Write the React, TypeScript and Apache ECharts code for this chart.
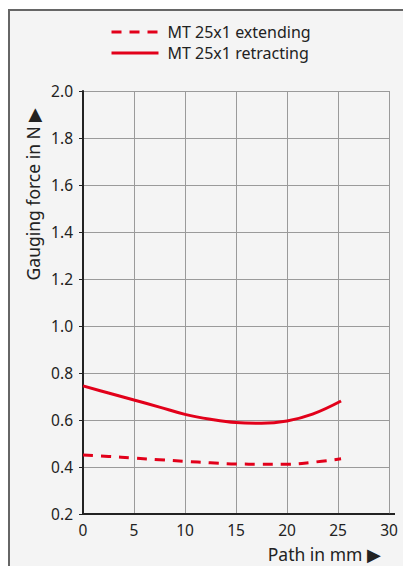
import React, { useEffect, useRef } from "react";
import * as echarts from "echarts";

const pathMm = [0, 2.5, 5, 7.5, 10, 12.5, 15, 17.5, 20, 22.5, 25.3];
const extending = [0.451, 0.445, 0.438, 0.431, 0.424, 0.418, 0.413, 0.412, 0.412, 0.42, 0.435];
const retracting = [0.745, 0.715, 0.685, 0.655, 0.624, 0.603, 0.589, 0.586, 0.596, 0.625, 0.681];
const xTicks = [0, 5, 10, 15, 20, 25, 30];
const yTicks = [0.2, 0.4, 0.6, 0.8, 1.0, 1.2, 1.4, 1.6, 1.8, 2.0];
const seriesNames = ["MT 25x1 extending", "MT 25x1 retracting"];

const RED = "#e2001a";
const FONT = "'Noto Sans', sans-serif";

export default function App() {
  const ref = useRef<HTMLDivElement>(null);
  useEffect(() => {
    document.body.style.margin = "0";
    const chart = echarts.init(ref.current!, null, { renderer: "svg" });
    chart.setOption({
      animation: false,
      backgroundColor: "#ffffff",
      textStyle: { fontFamily: FONT },
      graphic: [
        {
          type: "rect",
          z: -10,
          shape: { x: 9, y: 10, width: 420, height: 600 },
          style: { fill: "#f4f4f4", stroke: "#666666", lineWidth: 2 },
          silent: true,
        },
        {
          type: "text",
          x: 33,
          y: 194,
          rotation: Math.PI / 2,
          style: {
            text: "Gauging force in N \u25B6",
            fontFamily: FONT,
            fontSize: 17.5,
            fill: "#222",
            align: "center",
            verticalAlign: "middle",
          },
        },
        {
          type: "text",
          x: 381,
          y: 554,
          style: {
            text: "Path in mm \u25B6",
            fontFamily: FONT,
            fontSize: 17.5,
            fill: "#222",
            align: "right",
            verticalAlign: "middle",
          },
        },
        {
          type: "line",
          shape: { x1: 389, y1: 514, x2: 395, y2: 514 },
          style: { stroke: "#222", lineWidth: 2 },
        },
      ],
      legend: {
        orient: "vertical",
        left: 105,
        top: 17,
        itemWidth: 47,
        itemHeight: 14,
        itemGap: 1,
        itemStyle: { opacity: 0, borderWidth: 0 },
        lineStyle: { width: 3 },
        textStyle: {
          fontFamily: FONT,
          fontSize: 16,
          lineHeight: 20,
          color: "#222",
          padding: [0, 0, 0, 4],
        },
        data: seriesNames,
      },
      grid: { left: 83, right: 14, top: 91, bottom: 52 },
      xAxis: {
        type: "value",
        min: xTicks[0],
        max: xTicks[xTicks.length - 1],
        interval: 5,
        axisLine: { show: true, lineStyle: { color: "#222", width: 2 } },
        axisTick: { show: false },
        axisLabel: { color: "#222", fontSize: 15.5, fontFamily: FONT, margin: 8 },
        splitLine: { show: true, lineStyle: { color: "#9a9a9a", width: 1 } },
      },
      yAxis: {
        type: "value",
        min: yTicks[0],
        max: yTicks[yTicks.length - 1],
        interval: 0.2,
        axisLine: { show: true, lineStyle: { color: "#222", width: 2 } },
        axisTick: { show: true, length: 4, lineStyle: { color: "#222", width: 1 } },
        axisLabel: {
          color: "#222",
          fontSize: 15.5,
          fontFamily: FONT,
          margin: 10,
          formatter: (v: number) => v.toFixed(1),
        },
        splitLine: { show: true, lineStyle: { color: "#9a9a9a", width: 1 } },
      },
      series: [
        {
          name: seriesNames[0],
          type: "line",
          smooth: 0.4,
          symbol: "none",
          data: pathMm.map((x, i) => [x, extending[i]]),
          lineStyle: { color: RED, width: 3, type: [10, 8] },
          itemStyle: { color: RED },
        },
        {
          name: seriesNames[1],
          type: "line",
          smooth: 0.4,
          symbol: "none",
          data: pathMm.map((x, i) => [x, retracting[i]]),
          lineStyle: { color: RED, width: 3 },
          itemStyle: { color: RED },
        },
      ],
    });
    return () => chart.dispose();
  }, []);
  return <div ref={ref} style={{ width: 403, height: 566 }} />;
}
